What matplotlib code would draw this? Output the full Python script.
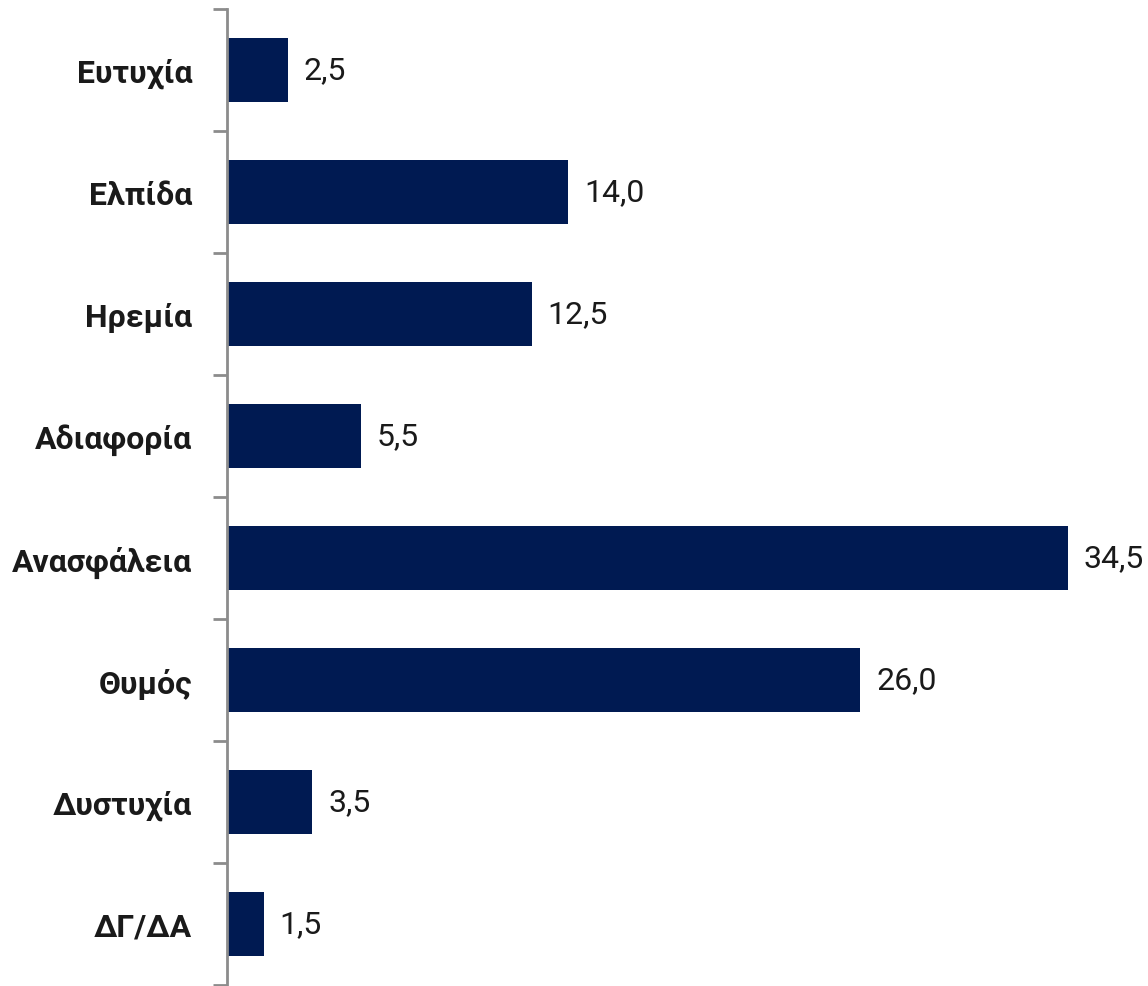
import matplotlib
matplotlib.use("Agg")
import matplotlib.pyplot as plt
import numpy as np

categories = ["Ευτυχία", "Ελπίδα", "Ηρεμία", "Αδιαφορία", "Ανασφάλεια", "Θυμός", "Δυστυχία", "ΔΓ/ΔΑ"]
values = [2.5, 14.0, 12.5, 5.5, 34.5, 26.0, 3.5, 1.5]

plt.rcParams['font.family'] = ['Roboto', 'DejaVu Sans']

fig = plt.figure(figsize=(11.48, 9.87), dpi=100)
ax = fig.add_axes([227 / 1148, 1 - 986 / 987, 1 - 227 / 1148, 976 / 987])

y = np.arange(len(categories))
ax.barh(y, values, height=0.52, color="#001A52")

for yi, v in zip(y, values):
    ax.text(v + 0.65, yi, f"{v:.1f}".replace(".", ","), va="center", ha="left",
            fontsize=23, color="#1a1a1a")

ax.set_xlim(0, 37.8)
ax.set_ylim(len(categories) - 0.5, -0.5)
ax.set_yticks(y)
ax.set_yticklabels(categories, fontsize=23, fontweight="bold", color="#1a1a1a")
ax.set_yticks(np.arange(-0.5, len(categories)), minor=True)
ax.tick_params(axis="y", which="major", length=0, pad=25)
ax.tick_params(axis="y", which="minor", length=10, width=2, color="#8c8c8c")
ax.set_xticks([])

for s in ["top", "right", "bottom"]:
    ax.spines[s].set_visible(False)
ax.spines["left"].set_color("#8c8c8c")
ax.spines["left"].set_linewidth(2)

fig.savefig("out.png", dpi=100)
